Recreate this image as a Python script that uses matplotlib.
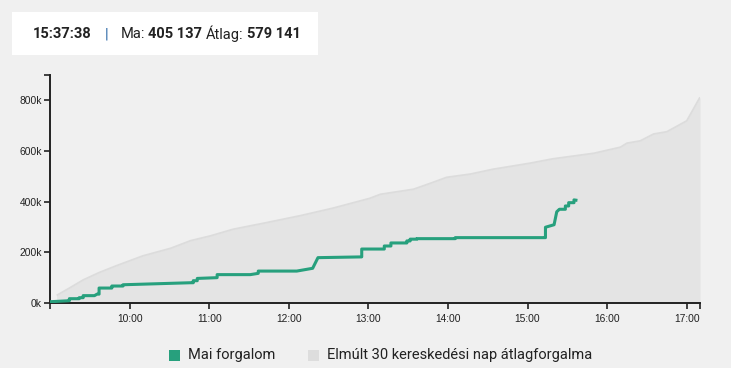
import matplotlib
matplotlib.use("Agg")
import matplotlib.pyplot as plt
from matplotlib.patches import Rectangle

plt.rcParams["font.family"] = ["Liberation Sans", "DejaVu Sans"]

# ---------------- data ----------------
avg_times = ["09:05", "09:15", "09:25", "09:37", "09:50", "10:10", "10:31", "10:46",
             "11:01", "11:18", "11:43", "12:09", "12:33", "13:01", "13:09", "13:34",
             "13:47", "13:59", "14:17", "14:34", "15:02", "15:19", "15:50", "16:10",
             "16:15", "16:25", "16:35", "16:45", "17:00", "17:10"]
avg_values = [30, 60, 91, 120, 147, 186, 216, 246,
              265, 291, 317, 345, 374, 413, 429, 449,
              473, 496, 509, 528, 552, 569, 591, 615,
              631, 640, 667, 676, 719, 812]  # thousands

today_times = ["09:00", "09:14.6", "09:14.6", "09:22", "09:22", "09:25", "09:25", "09:33.5",
               "09:35.5", "09:37", "09:37", "09:46.6", "09:46.6", "09:55", "09:55", "10:46",
               "10:48", "10:48", "10:51", "10:51", "11:06", "11:06", "11:31", "11:37",
               "11:37", "12:06", "12:18", "12:22", "12:55", "12:55", "13:12", "13:12",
               "13:17", "13:17", "13:29", "13:29", "13:31.5", "13:31.5", "13:36.6", "13:36.6",
               "14:05.5", "14:05.5", "15:12", "15:13.5", "15:13.5", "15:20", "15:22", "15:24",
               "15:28.5", "15:28.5", "15:31", "15:31", "15:35", "15:35", "15:37.6"]
today_values = [5, 9, 17, 17, 21, 21, 29, 29,
                35, 35, 59, 59, 67, 67, 72, 80,
                80, 88, 88, 97, 100, 112, 112, 117,
                126, 126, 137, 179, 182, 213, 213, 225,
                225, 237, 237, 245, 245, 252, 252, 254,
                254, 258, 258, 258, 299, 309, 360, 370,
                370, 383, 383, 396, 396, 407, 405]  # thousands

x_tick_labels = ["10:00", "11:00", "12:00", "13:00", "14:00", "15:00", "16:00", "17:00"]
y_tick_values = [0, 200, 400, 600, 800]
x_start, x_end = "09:00", "17:10"
y_max = 900

header_time = "15:37:38"
header_today = "405 137"
header_avg = "579 141"
legend_labels = ["Mai forgalom", "Elmúlt 30 kereskedési nap átlagforgalma"]


def to_h(s):
    h, m = s.split(":")
    return int(h) + float(m) / 60.0


BG = "#f0f0f0"
GREEN = "#27a07d"
AREA = "#e4e4e4"
AREA_EDGE = "#dcdcdc"
TXT = "#222222"

W, H = 731, 368
fig = plt.figure(figsize=(W / 100, H / 100), dpi=100, facecolor=BG)
ax = fig.add_axes([50 / W, 1 - 303 / H, 650 / W, 228 / H])
ax.set_facecolor(BG)

ax_t = [to_h(t) for t in avg_times]
ax.fill_between(ax_t, 0, avg_values, color=AREA, lw=0, zorder=1)
ax.plot(ax_t, avg_values, color=AREA_EDGE, lw=1.3, zorder=2, solid_capstyle="butt")

tt = [to_h(t) for t in today_times]
ax.plot(tt, today_values, color=GREEN, lw=2.2, zorder=3,
        solid_joinstyle="round", solid_capstyle="butt")

ax.set_xlim(to_h(x_start), to_h(x_end))
ax.set_ylim(0, y_max)

for s in ["top", "right"]:
    ax.spines[s].set_visible(False)
for s in ["left", "bottom"]:
    ax.spines[s].set_color(TXT)
    ax.spines[s].set_linewidth(1.4)

xt = [to_h(x_start)] + [to_h(t) for t in x_tick_labels] + [to_h(x_end)]
ax.set_xticks(xt)
ax.set_xticklabels([""] + x_tick_labels + [""])
ax.set_yticks(y_tick_values + [y_max])
ax.set_yticklabels([f"{v}k" for v in y_tick_values] + [""])
ax.tick_params(axis="both", direction="out", length=4.3, width=1.2, color=TXT,
               labelcolor=TXT, labelsize=7.4)
ax.tick_params(axis="x", pad=3.5)
ax.tick_params(axis="y", pad=1.5)

# header box
fig.patches.append(Rectangle((12 / W, 1 - 55 / H), 306 / W, 43 / H,
                             transform=fig.transFigure, facecolor="white",
                             edgecolor="none", zorder=0))
hy = 1 - 34 / H
hfont = dict(family="Roboto", fontsize=10.5, va="center", ha="left", color=TXT)
pieces = [(header_time, "bold", TXT, 13),
          ("|", "normal", "#2f6aa8", 12),
          ("Ma:", "normal", TXT, 3.5),
          (header_today, "bold", TXT, 3.5),
          ("Átlag:", "normal", TXT, 3.5),
          (header_avg, "bold", TXT, 0)]
renderer = fig.canvas.get_renderer()
xpos = 33.0
for txt, wt, col, gap in pieces:
    t = fig.text(xpos / W, hy, txt, fontweight=wt, **{**hfont, "color": col})
    bb = t.get_window_extent(renderer=renderer)
    xpos += bb.width + gap

# legend
ly = 1 - 355 / H
sq = 11
fig.patches.append(Rectangle((169 / W, ly - (sq / 2) / H), sq / W, sq / H,
                             transform=fig.transFigure, facecolor=GREEN, edgecolor="none"))
fig.text(188 / W, ly, legend_labels[0], family="Roboto", fontsize=10.5,
         va="center", ha="left", color=TXT)
fig.patches.append(Rectangle((308 / W, ly - (sq / 2) / H), sq / W, sq / H,
                             transform=fig.transFigure, facecolor="#dddddd", edgecolor="none"))
fig.text(327 / W, ly, legend_labels[1], family="Roboto", fontsize=10.5,
         va="center", ha="left", color=TXT)

fig.savefig("out.png", dpi=100, facecolor=BG)
